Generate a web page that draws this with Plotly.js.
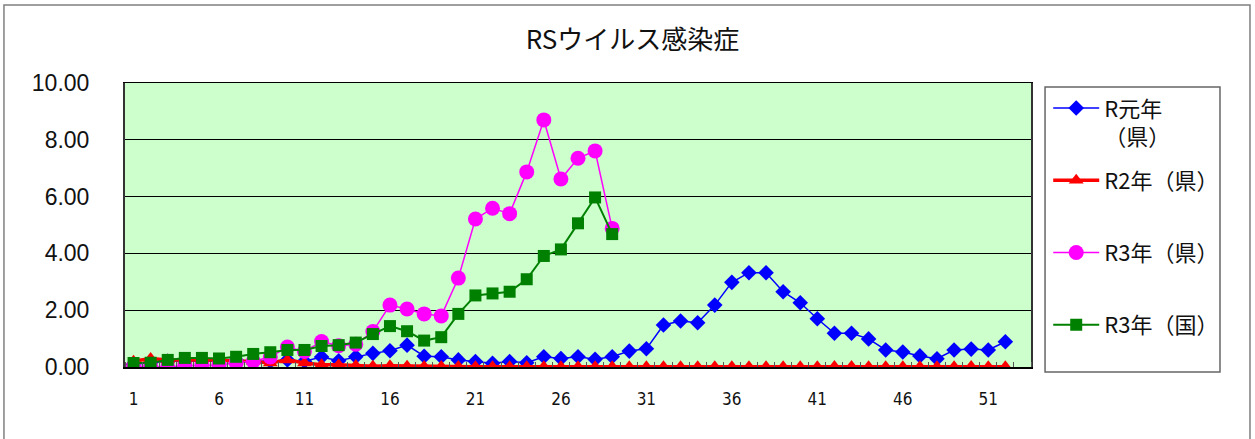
<!DOCTYPE html>
<html>
<head>
<meta charset="utf-8">
<script src="https://cdn.plot.ly/plotly-3.0.1.min.js"></script>
<style>html,body{margin:0;padding:0;background:#fff;}#chart{width:1255px;height:439px;}</style>
</head>
<body>
<div id="chart"></div>
<script>
const weeks = Array.from({length: 52}, (_, i) => i + 1);
const seriesNames = ["R元年<br>（県）", "R2年（県）<br>&nbsp;", "R3年（県）<br>&nbsp;", "R3年（国）<br>&nbsp;"];
const r1Pref = [0.10,0.15,0.20,0.20,0.20,0.20,0.25,0.20,0.20,0.25,0.20,0.35,0.22,0.36,0.48,0.57,0.77,0.38,0.36,0.25,
                0.19,0.13,0.19,0.15,0.36,0.30,0.36,0.27,0.36,0.56,0.64,1.48,1.62,1.56,2.18,2.98,3.32,3.32,2.65,2.26,
                1.70,1.19,1.19,0.99,0.60,0.53,0.39,0.29,0.60,0.63,0.60,0.89];
const r2Pref = [0.20,0.30,0.25,0.25,0.25,0.25,0.20,0.20,0.14,0.25,0.14,0.08,0.08,0.05,0.03,0.04,0.03,0.02,0.02,0.02,
                0.01,0.01,0.01,0.01,0.01,0.01,0.01,0.01,0.01,0.01,0.01,0.01,0.01,0.01,0.01,0.01,0.01,0.01,0.01,0.01,
                0.01,0.02,0.02,0.01,0.01,0.01,0.01,0.01,0.01,0.02,0.01,0.01];
const r3Pref = [0.03,0.03,0.00,0.05,0.05,0.07,0.15,0.20,0.35,0.70,0.55,0.90,0.75,0.80,1.25,2.18,2.04,1.87,1.80,3.13,
                5.21,5.59,5.40,6.87,8.70,6.62,7.35,7.61,4.88];
const r3Nation = [0.14,0.15,0.25,0.32,0.32,0.30,0.36,0.46,0.52,0.60,0.60,0.74,0.77,0.86,1.16,1.44,1.26,0.93,1.05,1.87,
                  2.52,2.59,2.65,3.09,3.91,4.14,5.06,5.97,4.68];
const xTickVals = [1,6,11,16,21,26,31,36,41,46,51];
const yTickVals = [0,2,4,6,8,10];

const FONT = '"Noto Sans CJK JP", "Liberation Sans", Arial, sans-serif';

const traces = [
  {x: weeks, y: r1Pref, name: seriesNames[0], mode: 'lines+markers', legendgroup: 'a',
   line: {color: '#0000FF', width: 1.5}, marker: {symbol: 'diamond', size: 12, color: '#0000FF'}},
  {x: weeks, y: r2Pref, name: seriesNames[1], mode: 'lines+markers', legendgroup: 'b',
   line: {color: '#FF0000', width: 3.5}, marker: {symbol: 'triangle-up', size: 13, color: '#FF0000'}},
  {x: weeks.slice(0, r3Pref.length), y: r3Pref, name: seriesNames[2], mode: 'lines+markers', legendgroup: 'c',
   line: {color: '#FF00FF', width: 1.5}, marker: {symbol: 'circle', size: 15, color: '#FF00FF'}},
  {x: weeks.slice(0, r3Nation.length), y: r3Nation, name: seriesNames[3], mode: 'lines+markers', legendgroup: 'd',
   line: {color: '#008000', width: 2}, marker: {symbol: 'square', size: 12, color: '#008000'}}
];

const layout = {
  width: 1255, height: 439,
  margin: {l: 125, r: 224, t: 83, b: 72},
  paper_bgcolor: '#FFFFFF',
  plot_bgcolor: '#CCFFCC',
  font: {family: FONT, color: '#111'},
  title: {text: 'RSウイルス感染症', font: {size: 26, family: FONT, color: '#111'},
          x: 0.504, xref: 'container', xanchor: 'center', y: 0.909, yref: 'container', yanchor: 'middle'},
  xaxis: {
    range: [0.5, 53.5], tickmode: 'array', tickvals: xTickVals, ticktext: xTickVals.map(String),
    ticks: '', showgrid: false, zeroline: false,
    showline: true, linecolor: '#000', linewidth: 1.5, mirror: true,
    tickfont: {size: 17, family: '"Liberation Sans Narrow", "DejaVu Sans Condensed", Arial, sans-serif', color: '#111'},
    ticklabelstandoff: 16,
    minor: {ticks: 'inside', tick0: 0.5, dtick: 1, ticklen: 5, tickcolor: '#555', tickwidth: 1, showgrid: false}
  },
  yaxis: {
    range: [0, 10], tickmode: 'array', tickvals: yTickVals, ticktext: yTickVals.map(v => v.toFixed(2)),
    ticks: '', showgrid: true, gridcolor: '#000', gridwidth: 1, zeroline: false,
    showline: true, linecolor: '#333', linewidth: 2, mirror: true,
    tickfont: {size: 23, family: '"Liberation Sans", Arial, sans-serif', color: '#111'},
    ticklabelstandoff: 29
  },
  showlegend: true,
  legend: {
    x: 1.019, xanchor: 'left', y: 0.985, yanchor: 'top',
    bgcolor: 'rgba(0,0,0,0)', borderwidth: 0,
    font: {size: 22, family: FONT, color: '#111'},
    tracegroupgap: 12, valign: 'top', itemwidth: 46
  },
  shapes: [
    {type: 'rect', xref: 'paper', yref: 'paper', x0: 1.0155, x1: 1.2086, y0: -0.0176, y1: 0.986,
     line: {color: '#666', width: 1.5}, fillcolor: 'rgba(0,0,0,0)', layer: 'below'},
    {type: 'rect', xref: 'paper', yref: 'paper', x0: -0.1336, x1: 1.2417, y0: -0.28, y1: 1.2746,
     line: {color: '#808080', width: 1.5}, fillcolor: 'rgba(0,0,0,0)', layer: 'above'}
  ]
};

Plotly.newPlot('chart', traces, layout, {displayModeBar: false, staticPlot: true});
</script>
</body>
</html>
